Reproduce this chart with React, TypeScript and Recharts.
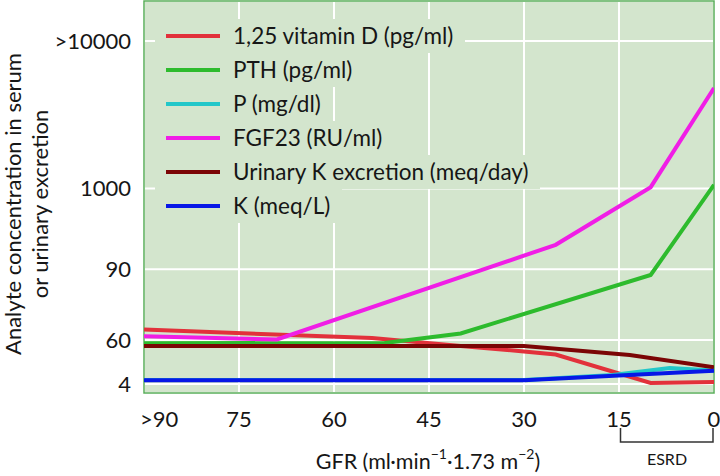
import React from 'react';
import { LineChart, Line, XAxis, YAxis, CartesianGrid, ReferenceArea } from 'recharts';

const FONT = 'Lato, "Noto Sans", sans-serif';
const TEXT = '#161616';
const BG = '#d3e5cd';

// X axis (GFR, ml/min/1.73 m2)
const xTicks = [90, 75, 60, 45, 30, 15, 0];
const xTickLabels = ['>90', '75', '60', '45', '30', '15', '0'];

// Y axis: schematic (non-linear) level scale 0–100 with labelled levels
const yTicks = [2.3, 13.5, 31.6, 52.2, 89.8];
const yTickLabels = ['4', '60', '90', '1000', '>10000'];

// Series (GFR points and schematic levels)
const vitDGfr = [90, 54, 40, 30, 25, 10, 0];
const vitDVal = [16.2, 14.0, 12.0, 10.6, 9.8, 2.55, 2.8];
const pthGfr = [90, 52, 40, 10, 0];
const pthVal = [12.7, 12.75, 15.2, 30.1, 53.1];
const pGfr = [90, 30, 16, 7, 0];
const pVal = [3.3, 3.3, 4.6, 6.4, 5.75];
const fgfGfr = [90, 69, 25, 10, 0];
const fgfVal = [14.5, 13.65, 37.8, 52.5, 77.8];
const ukGfr = [90, 30, 13.3, 0];
const ukVal = [12.0, 12.0, 9.7, 6.55];
const kGfr = [90, 30, 0];
const kVal = [3.25, 3.25, 5.7];

const seriesNames = [
  '1,25 vitamin D (pg/ml)',
  'PTH (pg/ml)',
  'P (mg/dl)',
  'FGF23 (RU/ml)',
  'Urinary K excretion (meq/day)',
  'K (meq/L)',
];
const seriesColors = ['#e2313b', '#2dbb2d', '#22c7c9', '#f01ee6', '#7b0505', '#0717e6'];
const seriesGfr = [vitDGfr, pthGfr, pGfr, fgfGfr, ukGfr, kGfr];
const seriesVal = [vitDVal, pthVal, pVal, fgfVal, ukVal, kVal];

const seriesData = seriesGfr.map((g, s) => g.map((gfr, i) => ({ gfr, value: seriesVal[s][i] })));

const XTick = (props: any) => {
  const { x, y, payload } = props;
  const idx = xTicks.indexOf(payload.value);
  const label = idx >= 0 ? xTickLabels[idx] : String(payload.value);
  const first = payload.value === 90;
  return (
    <text
      x={first ? x - 4 : x}
      y={y}
      dy="0.355em"
      textAnchor={first ? 'start' : 'middle'}
      fontFamily={FONT}
      fontSize={22}
      fill={TEXT}
    >
      {label}
    </text>
  );
};

const YTick = (props: any) => {
  const { x, y, payload } = props;
  const idx = yTicks.indexOf(payload.value);
  const label = idx >= 0 ? yTickLabels[idx] : String(payload.value);
  return (
    <text x={x} y={y} dy="0.355em" textAnchor="end" fontFamily={FONT} fontSize={22} fill={TEXT}>
      {label}
    </text>
  );
};

const YTitle = () => (
  <text
    transform="translate(0,204) rotate(-90)"
    textAnchor="middle"
    fontFamily={FONT}
    fontSize={22}
    fill={TEXT}
  >
    <tspan x={0} y={21}>Analyte concentration in serum</tspan>
    <tspan x={0} y={47.5}>or urinary excretion</tspan>
  </text>
);

const XTitle = () => (
  <text x={428} y={461} dominantBaseline="central" textAnchor="middle" fontFamily={FONT} fontSize={21.5} fill={TEXT}>
    GFR (ml·min
    <tspan dy={-8} fontSize={14}>−1</tspan>
    <tspan dy={8}>·1.73 m</tspan>
    <tspan dy={-8} fontSize={14}>−2</tspan>
    <tspan dy={8}>)</tspan>
  </text>
);

const LegendOverlay = () => (
  <div
    style={{
      position: 'absolute',
      left: 155,
      top: 19,
      display: 'flex',
      flexDirection: 'column',
      alignItems: 'flex-start',
      pointerEvents: 'none',
    }}
  >
    {seriesNames.map((name, i) => (
      <div
        key={name}
        style={{
          height: 34,
          display: 'flex',
          alignItems: 'center',
          background: BG,
          paddingRight: 12,
          whiteSpace: 'nowrap',
        }}
      >
        <div style={{ marginLeft: 11, width: 54, height: 4, background: seriesColors[i] }} />
        <span style={{ marginLeft: 13, fontFamily: FONT, fontSize: 22.5, color: TEXT, lineHeight: '34px' }}>{name}</span>
      </div>
    ))}
  </div>
);

const EsrdOverlay = () => (
  <svg width={720} height={476} style={{ position: 'absolute', left: 0, top: 0, pointerEvents: 'none' }}>
    <path d="M620.5 428 V442 H713 V428" fill="none" stroke="#333" strokeWidth={1.5} />
    <text x={667} y={458} dominantBaseline="central" textAnchor="middle" fontFamily={FONT} fontSize={16} fill={TEXT}>
      ESRD
    </text>
  </svg>
);

export default function App() {
  return (
    <div style={{ position: 'absolute', left: 0, top: 0, width: 720, height: 476, background: '#fff' }}>
      <LineChart width={720} height={476} margin={{ top: 1, right: 6, left: 0, bottom: 0 }}>
        <CartesianGrid stroke="#ffffff" strokeWidth={2} fill={BG} fillOpacity={1} />
        <XAxis
          type="number"
          dataKey="gfr"
          domain={[0, 90]}
          reversed
          ticks={xTicks}
          interval={0}
          allowDataOverflow
          axisLine={false}
          tickLine={false}
          tickSize={0}
          tickMargin={26}
          height={83}
          tick={<XTick />}
          label={{ content: () => <XTitle /> }}
        />
        <YAxis
          type="number"
          domain={[0, 100]}
          ticks={yTicks}
          interval={0}
          allowDataOverflow
          axisLine={false}
          tickLine={false}
          tickSize={0}
          tickMargin={13}
          width={144}
          tick={<YTick />}
          label={{ content: () => <YTitle /> }}
        />
        <ReferenceArea x1={0} x2={90} y1={0} y2={100} fill="none" stroke="#5aae5a" strokeWidth={1.5} ifOverflow="visible" />
        {seriesNames.map((name, i) => (
          <Line
            key={name}
            data={seriesData[i]}
            dataKey="value"
            name={name}
            type="linear"
            stroke={seriesColors[i]}
            strokeWidth={4}
            dot={false}
            activeDot={false}
            isAnimationActive={false}
          />
        ))}
      </LineChart>
      <LegendOverlay />
      <EsrdOverlay />
    </div>
  );
}
